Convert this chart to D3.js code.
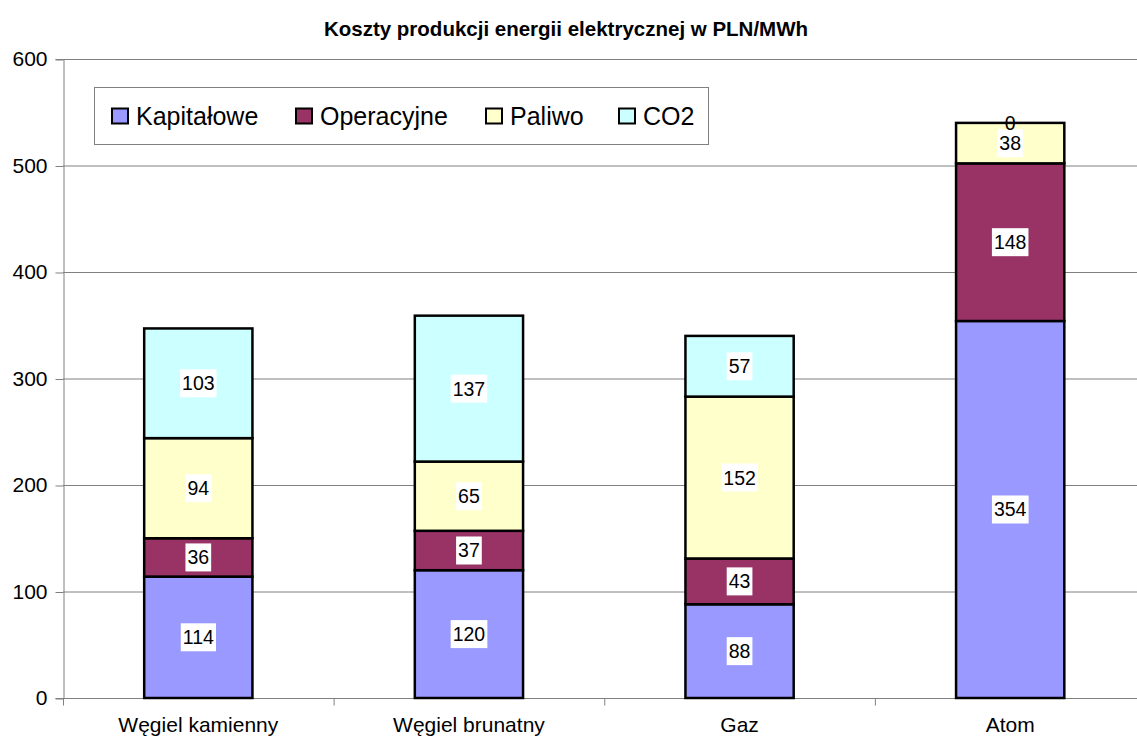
<!DOCTYPE html>
<html><head><meta charset="utf-8">
<script src="https://cdn.jsdelivr.net/npm/d3@7"></script>
<style>body{margin:0;background:#fff}svg{display:block}</style>
</head><body>
<svg id="c" width="1137" height="738"></svg>
<script>
const categories = ["Węgiel kamienny", "Węgiel brunatny", "Gaz", "Atom"];
const seriesNames = ["Kapitałowe", "Operacyjne", "Paliwo", "CO2"];
const kapitalowe = [114, 120, 88, 354];
const operacyjne = [36, 37, 43, 148];
const paliwo = [94, 65, 152, 38];
const co2 = [103, 137, 57, 0];
const yTicks = [0, 100, 200, 300, 400, 500, 600];
const colors = ["#9999FF", "#993366", "#FFFFCC", "#CCFFFF"];
const title = "Koszty produkcji energii elektrycznej w PLN/MWh";

const values = [kapitalowe, operacyjne, paliwo, co2];
const rows = categories.map((c, i) => {
  const r = {cat: c};
  seriesNames.forEach((s, j) => r[s] = values[j][i]);
  return r;
});
const stacked = d3.stack().keys(seriesNames)(rows);

const svg = d3.select("#c");
const font = "Arial, 'Liberation Sans', sans-serif";
const L = 63, R = 1145.5, T = 59, B = 698;
const x = d3.scaleBand().domain(categories).range([L, R]).paddingInner(0.6).paddingOuter(0.3);
const xb = d3.scaleBand().domain(categories).range([L, R]);
const y = d3.scaleLinear().domain([0, 600]).range([B, T]);

svg.append("text").attr("x", 566).attr("y", 36).attr("text-anchor", "middle")
  .attr("font-family", font).attr("font-weight", "bold").attr("font-size", 20.5).text(title);

// gridlines
svg.append("g").selectAll("line").data(yTicks.filter(t => t > 0)).join("line")
  .attr("x1", L).attr("x2", 1137).attr("y1", d => y(d) + 0.5).attr("y2", d => y(d) + 0.5)
  .attr("stroke", "#808080").attr("stroke-width", 1);

// y axis
const ya = svg.append("g").attr("transform", `translate(${L + 0.5},0)`)
  .call(d3.axisLeft(y).tickValues(yTicks).tickSize(8).tickPadding(8));
ya.select(".domain").attr("stroke", "#808080");
ya.selectAll(".tick line").attr("stroke", "#808080").attr("transform", "translate(0,0.5)");
ya.selectAll("text").attr("font-family", font).attr("font-size", 21).attr("fill", "#000");

// x axis
const xa = svg.append("g").attr("transform", `translate(0,${B + 0.5})`);
xa.append("line").attr("x1", L).attr("x2", 1137).attr("stroke", "#808080");
xa.selectAll("line.tk").data(categories.concat(["end"])).join("line").attr("class", "tk")
  .attr("x1", (d, i) => L + i * xb.bandwidth() + 0.5).attr("x2", (d, i) => L + i * xb.bandwidth() + 0.5)
  .attr("y1", 0).attr("y2", 7).attr("stroke", "#808080");
xa.selectAll("text").data(categories).join("text")
  .attr("x", d => xb(d) + xb.bandwidth() / 2).attr("y", 33.5).attr("text-anchor", "middle")
  .attr("font-family", font).attr("font-size", 21).text(d => d);

// bars
const g = svg.append("g");
stacked.forEach((s, j) => {
  g.selectAll(null).data(s).join("rect")
    .attr("x", d => x(d.data.cat)).attr("width", x.bandwidth())
    .attr("y", d => y(d[1])).attr("height", d => y(d[0]) - y(d[1]))
    .attr("fill", colors[j]).attr("stroke", "#000").attr("stroke-width", 2.5);
});

// labels
const lg = svg.append("g");
stacked.forEach((s, j) => {
  s.forEach(d => {
    const v = d[1] - d[0];
    const cx = x(d.data.cat) + x.bandwidth() / 2;
    const cy = (y(d[0]) + y(d[1])) / 2;
    const t = lg.append("text").attr("x", cx).attr("y", cy + 7).attr("text-anchor", "middle")
      .attr("font-family", font).attr("font-size", 19.5).text(v);
    const bb = t.node().getBBox();
    if (v !== 0) {
      lg.insert("rect", () => t.node()).attr("x", bb.x - 2).attr("y", cy - 14).attr("width", bb.width + 4).attr("height", 28)
        .attr("fill", "#fff");
    }
  });
});

// legend
const leg = svg.append("g");
leg.append("rect").attr("x", 94.5).attr("y", 87.5).attr("width", 614).attr("height", 57)
  .attr("fill", "#fff").attr("stroke", "#808080");
const legX = [111, 295, 485, 618];
seriesNames.forEach((s, j) => {
  leg.append("rect").attr("x", legX[j] + 1).attr("y", 108.5).attr("width", 16).attr("height", 15)
    .attr("fill", colors[j]).attr("stroke", "#000").attr("stroke-width", 2);
  leg.append("text").attr("x", legX[j] + 25).attr("y", 125).attr("font-family", font).attr("font-size", 25).text(s);
});
</script>
</body></html>
